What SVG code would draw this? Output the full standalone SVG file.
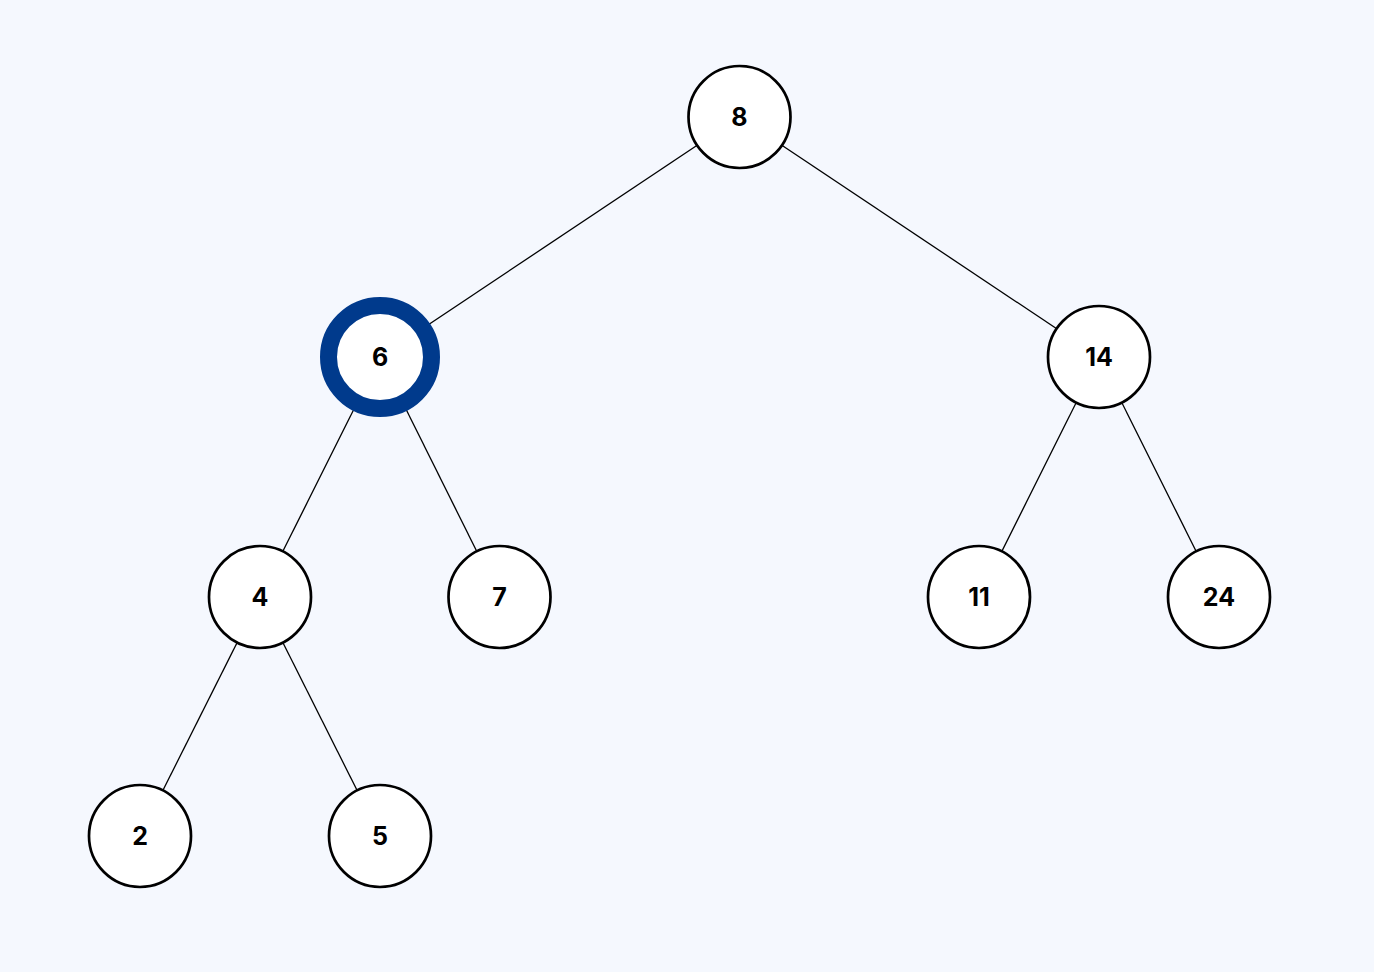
<svg xmlns="http://www.w3.org/2000/svg" width="1374" height="972" viewBox="0 0 1374 972">
<style>
.e{stroke:#000;stroke-width:1.3;fill:none}
.n{fill:#fff;stroke:#000;stroke-width:2.7}
.h{fill:#fff;stroke:#003a8c;stroke-width:17}
.t{font-family:Inter,"Liberation Sans",sans-serif;font-weight:700;font-size:25px;fill:#000;text-anchor:middle;dominant-baseline:central}
</style>
<rect width="1374" height="972" fill="#f5f8fe"/>
<g id="edges">
<line class="e" x1="739.5" y1="117" x2="380" y2="357"/>
<line class="e" x1="739.5" y1="117" x2="1099" y2="357"/>
<line class="e" x1="380" y1="357" x2="260" y2="597"/>
<line class="e" x1="380" y1="357" x2="499.5" y2="597"/>
<line class="e" x1="1099" y1="357" x2="979" y2="597"/>
<line class="e" x1="1099" y1="357" x2="1219" y2="597"/>
<line class="e" x1="260" y1="597" x2="140" y2="836"/>
<line class="e" x1="260" y1="597" x2="380" y2="836"/>
</g>
<g id="n8"><circle class="n" cx="739.5" cy="117" r="51"/><text class="t" x="739.5" y="117">8</text></g>
<g id="n6"><circle class="h" cx="380" cy="357" r="51.5"/><text class="t" x="380" y="357">6</text></g>
<g id="n14"><circle class="n" cx="1099" cy="357" r="51"/><text class="t" x="1099" y="357">14</text></g>
<g id="n4"><circle class="n" cx="260" cy="597" r="51"/><text class="t" x="260" y="597">4</text></g>
<g id="n7"><circle class="n" cx="499.5" cy="597" r="51"/><text class="t" x="499.5" y="597">7</text></g>
<g id="n11"><circle class="n" cx="979" cy="597" r="51"/><text class="t" x="979" y="597">11</text></g>
<g id="n24"><circle class="n" cx="1219" cy="597" r="51"/><text class="t" x="1219" y="597">24</text></g>
<g id="n2"><circle class="n" cx="140" cy="836" r="51"/><text class="t" x="140" y="836">2</text></g>
<g id="n5"><circle class="n" cx="380" cy="836" r="51"/><text class="t" x="380" y="836">5</text></g>
</svg>
